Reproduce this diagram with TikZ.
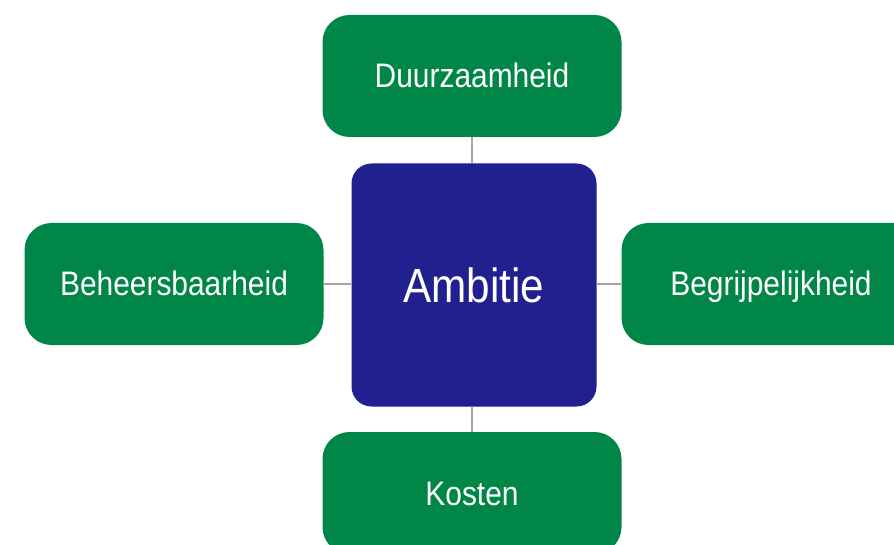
\documentclass[tikz,border=0pt]{standalone}
\usepackage{fontspec}
\setmainfont{Liberation Sans}[FakeStretch=0.88]
\definecolor{aspectgreen}{HTML}{008647}
\definecolor{ambitieblue}{HTML}{21208F}
\definecolor{linkgrey}{HTML}{A6A6A6}
\begin{document}
\begin{tikzpicture}[x=1pt, y=-1pt,
  aspect/.style={fill=aspectgreen, text=white, rounded corners=27pt, minimum width=299pt, minimum height=122pt, text height=24pt, text depth=0pt, font=\fontsize{34}{38}\selectfont},
  link/.style={draw=linkgrey, line width=2.5pt}]
\useasboundingbox (0,0) rectangle (894,545);
\clip (0,0) rectangle (894,545);
\node[fill=ambitieblue, text=white, rounded corners=20pt, minimum width=245pt, minimum height=243pt, text height=34pt, text depth=0pt, font=\fontsize{48}{52}\selectfont] (ambitie) at (474,285) {Ambitie};
\node[aspect] (duurzaam) at (472,76) {Duurzaamheid};
\node[aspect] (beheers) at (174,284) {Beheersbaarheid};
\node[aspect] (begrijp) at (771,284) {Begrijpelijkheid};
\node[aspect] (kosten) at (472,493) {Kosten};
\draw[link] (duurzaam) -- (duurzaam |- ambitie.north);
\draw[link] (beheers) -- (ambitie.west |- beheers);
\draw[link] (ambitie.east |- begrijp) -- (begrijp);
\draw[link] (kosten |- ambitie.south) -- (kosten);
\end{tikzpicture}
\end{document}
